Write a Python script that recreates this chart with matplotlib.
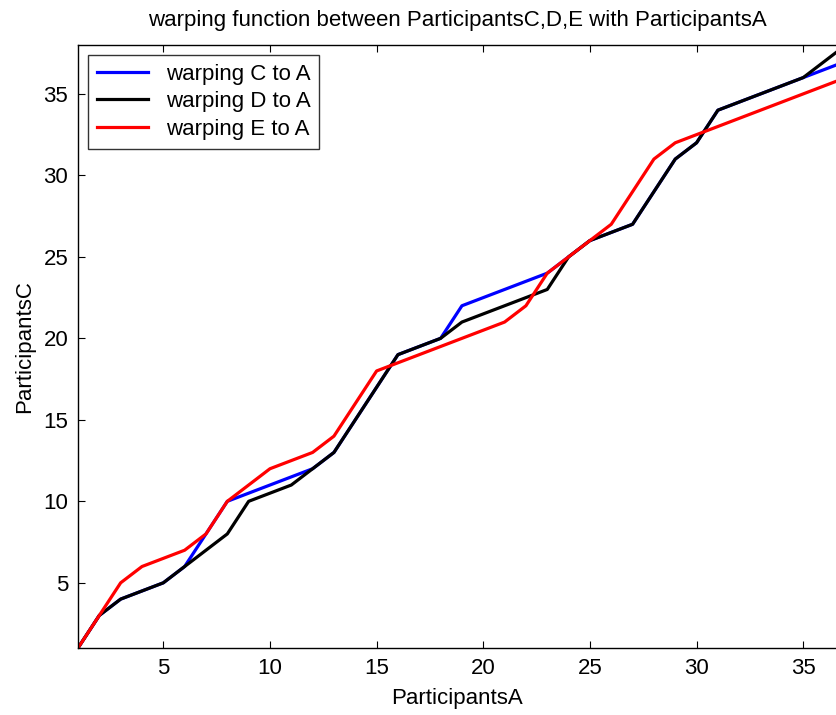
import numpy as np
import matplotlib
matplotlib.use("Agg")
import matplotlib.pyplot as plt

plt.rcParams['font.family'] = ['Liberation Sans', 'DejaVu Sans']

# index along ParticipantsA
idx = np.arange(1, 38)

# warping paths
warp_c = [1, 3, 4, 4.5, 5, 6, 8, 10, 10.5, 11, 11.5, 12, 13, 15, 17, 19, 19.5, 20,
          22, 22.5, 23, 23.5, 24, 25, 26, 26.5, 27, 29, 31, 32, 34, 34.5, 35, 35.5,
          36, 36.5, 37]
warp_d = [1, 3, 4, 4.5, 5, 6, 7, 8, 10, 10.5, 11, 12, 13, 15, 17, 19, 19.5, 20,
          21, 21.5, 22, 22.5, 23, 25, 26, 26.5, 27, 29, 31, 32, 34, 34.5, 35, 35.5,
          36, 37, 38]
warp_e = [1, 3, 5, 6, 6.5, 7, 8, 10, 11, 12, 12.5, 13, 14, 16, 18, 18.5, 19, 19.5,
          20, 20.5, 21, 22, 24, 25, 26, 27, 29, 31, 32, 32.5, 33, 33.5, 34, 34.5,
          35, 35.5, 36]

labels = ['warping C to A', 'warping D to A', 'warping E to A']
colors = ['#0000ff', '#000000', '#ff0000']

fs = 16

fig = plt.figure(figsize=(8.36, 7.15), dpi=100)
ax = fig.add_axes([78/836, 1-648/715, 1-78/836, (648-45)/715])

for y, lab, c in zip([warp_c, warp_d, warp_e], labels, colors):
    ax.plot(idx, y, color=c, lw=2.3, label=lab)

ax.set_xlim(1, 1 + (836-78)/21.33)
ax.set_ylim(1, 38)
ax.set_xticks([5, 10, 15, 20, 25, 30, 35])
ax.set_yticks([5, 10, 15, 20, 25, 30, 35])
ax.tick_params(direction='in', length=5, width=0.8, labelsize=fs,
               top=True, right=False, pad=7)
ax.spines['right'].set_visible(False)
for s in ['left', 'bottom', 'top']:
    ax.spines[s].set_linewidth(1.0)

ax.set_title('warping function between ParticipantsC,D,E with ParticipantsA',
             fontsize=fs, pad=14)
ax.set_xlabel('ParticipantsA', fontsize=fs, labelpad=7)
ax.set_ylabel('ParticipantsC', fontsize=fs, labelpad=6)

leg = ax.legend(loc='upper left', bbox_to_anchor=(0.013, 0.984), borderaxespad=0,
                fancybox=False, fontsize=fs, handlelength=2.3, labelspacing=0.3,
                borderpad=0.4, handletextpad=0.8)
leg.get_frame().set_edgecolor('black')
leg.get_frame().set_linewidth(1.0)

fig.savefig('out.png', dpi=100)
